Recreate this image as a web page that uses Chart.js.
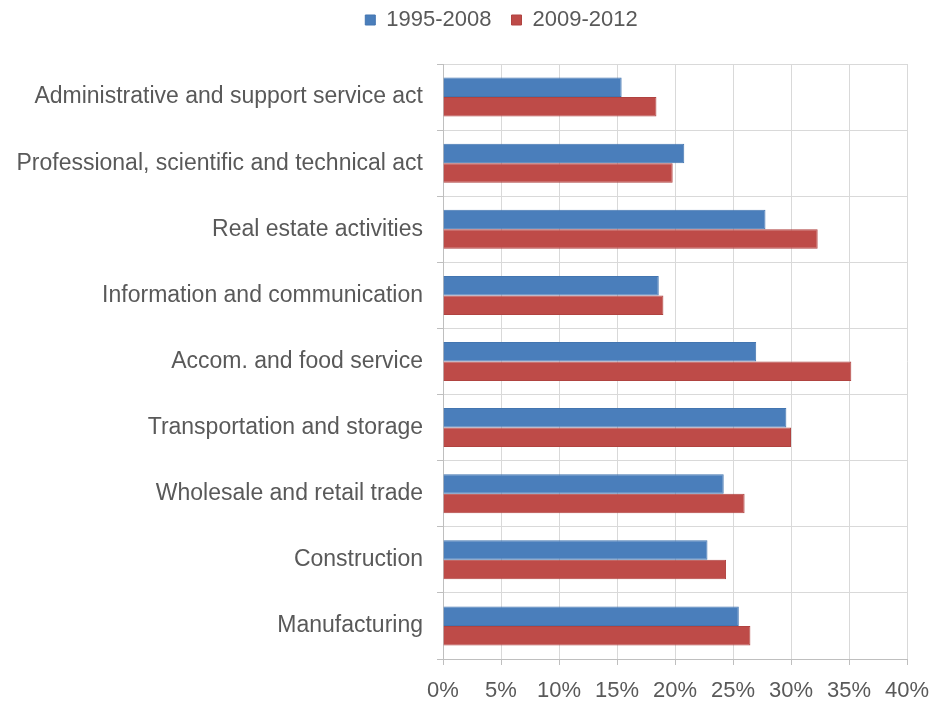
<!DOCTYPE html>
<html>
<head>
<meta charset="utf-8">
<script src="https://cdn.jsdelivr.net/npm/chart.js@4"></script>
<style>
  html, body { margin: 0; padding: 0; background: #fff; }
  #wrap { width: 945px; height: 701px; }
</style>
</head>
<body>
<div id="wrap"><canvas id="myChart"></canvas></div>
<script>
// sectors, top to bottom
const sectors = [
  "Administrative and support service act",
  "Professional, scientific and technical act",
  "Real estate activities",
  "Information and communication",
  "Accom. and food service",
  "Transportation and storage",
  "Wholesale and retail trade",
  "Construction",
  "Manufacturing"
];

const period1 = [15.4, 20.8, 27.8, 18.6, 27.0, 29.6, 24.2, 22.8, 25.5];
const period2 = [18.4, 19.8, 32.3, 19.0, 35.2, 30.0, 26.0, 24.4, 26.5];

const seriesNames = ["1995-2008", "2009-2012"];

const textColor = "#595959";
const family = "'Liberation Sans', Arial, sans-serif";
const font = { family: family, size: 22 };

// extra room under the legend, and move it right/up a bit
const legendSpacing = {
  id: "legendSpacing",
  beforeInit(chart) {
    const fit = chart.legend.fit;
    chart.legend.fit = function () {
      fit.bind(chart.legend)();
      this.height += 11;
    };
  },
  afterLayout(chart) {
    const lg = chart.legend;
    lg.left += 48;
    lg.right += 48;
    lg.top -= 12;
    lg.bottom -= 12;
  }
};

new Chart(document.getElementById("myChart"), {
  type: "bar",
  data: {
    labels: sectors,
    datasets: [
      {
        label: seriesNames[0],
        data: period1,
        backgroundColor: "#4a7ebb",
        borderColor: "#4375b0",
        borderWidth: 1
      },
      {
        label: seriesNames[1],
        data: period2,
        backgroundColor: "#be4b48",
        borderColor: "#b04340",
        borderWidth: 1
      }
    ]
  },
  plugins: [legendSpacing],
  options: {
    indexAxis: "y",
    responsive: true,
    maintainAspectRatio: false,
    animation: false,
    layout: { padding: { left: 0, right: 38, top: 1, bottom: 0 } },
    datasets: {
      bar: { categoryPercentage: 0.59, barPercentage: 1 }
    },
    plugins: {
      legend: {
        position: "top",
        labels: {
          boxWidth: 10,
          boxHeight: 10,
          color: textColor,
          font: font,
          padding: 20
        }
      },
      tooltip: { enabled: false }
    },
    scales: {
      x: {
        min: 0,
        max: 40,
        ticks: {
          stepSize: 5,
          color: textColor,
          font: font,
          padding: 13,
          callback: v => v + "%"
        },
        grid: { color: "#d9d9d9", tickLength: 6, tickColor: "#bfbfbf" },
        border: { color: "#bfbfbf" },
        afterFit: s => { s.height = 42; }
      },
      y: {
        ticks: { color: textColor, font: { family: family, size: 23 }, padding: 14 },
        grid: { color: "#d9d9d9", tickLength: 6, tickColor: "#bfbfbf", offset: true },
        border: { color: "#bfbfbf" },
        afterFit: s => { s.width = 443; }
      }
    }
  }
});
</script>
</body>
</html>
